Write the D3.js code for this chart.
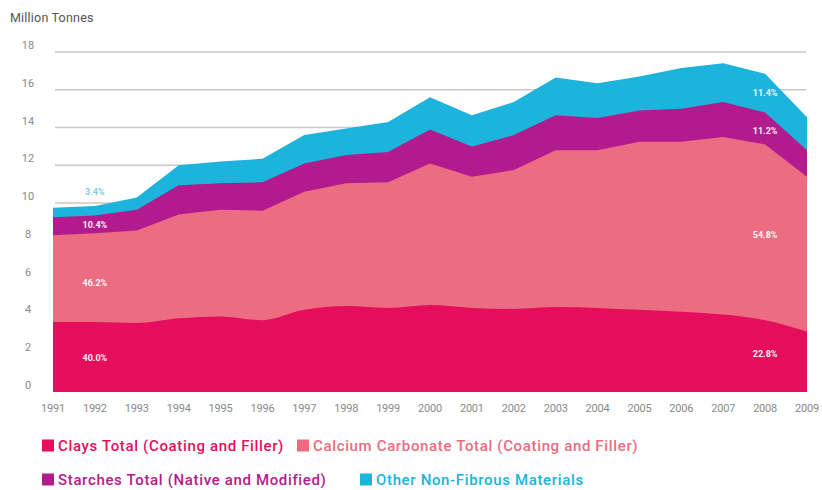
<!DOCTYPE html>
<html><head><meta charset="utf-8">
<script src="https://cdn.jsdelivr.net/npm/d3@7"></script>
<style>body{margin:0;background:#fff}svg{display:block}</style>
</head><body>
<svg id="c" width="822" height="490"></svg>
<script>
const years = [1991,1992,1993,1994,1995,1996,1997,1998,1999,2000,2001,2002,2003,2004,2005,2006,2007,2008,2009];
const clays    = [3.7,3.7,3.65,3.9,4.0,3.8,4.35,4.55,4.45,4.6,4.45,4.4,4.5,4.45,4.35,4.25,4.1,3.8,3.2];
const calcium  = [4.6,4.7,4.9,5.5,5.65,5.8,6.25,6.5,6.65,7.5,6.95,7.35,8.3,8.35,8.9,9.0,9.4,9.3,8.2];
const starches = [0.95,0.95,1.1,1.55,1.4,1.5,1.5,1.5,1.6,1.8,1.6,1.85,1.85,1.7,1.65,1.75,1.85,1.7,1.4];
const other    = [0.5,0.5,0.65,1.05,1.15,1.25,1.5,1.4,1.6,1.7,1.65,1.75,2.0,1.85,1.8,2.15,2.05,2.05,1.75];
const seriesNames = ["Clays Total (Coating and Filler)","Calcium Carbonate Total (Coating and Filler)","Starches Total (Native and Modified)","Other Non-Fibrous Materials"];
const yTicks = [0,2,4,6,8,10,12,14,16,18];
const startLabels = ["40.0%","46.2%","10.4%","3.4%"];
const endLabels   = ["22.8%","54.8%","11.2%","11.4%"];
const startLabelY = [1.8,5.77,8.85,10.6];
const endLabelY   = [2.0,8.3,13.8,15.83];

const colors = ["#e60d5d","#ec6c81","#b21b8e","#1cb3dc"];
const keys = ["clays","calcium","starches","other"];
const rows = years.map((y,i)=>({year:y,clays:clays[i],calcium:calcium[i],starches:starches[i],other:other[i]}));
const stack = d3.stack().keys(keys)(rows);

const svg = d3.select("#c");
const x = d3.scaleLinear().domain([1991,2009]).range([53,807]);
const y = d3.scaleLinear().domain([0,18]).range([392,52]);

svg.append("text").attr("x",10).attr("y",22).attr("font-family","Roboto, sans-serif")
  .attr("font-size",12.5).attr("letter-spacing",0.2).attr("fill","#555").text("Million Tonnes");

// gridlines
svg.append("g").selectAll("line").data(yTicks.filter(t=>t>0)).join("line")
  .attr("x1",55).attr("x2",806).attr("y1",d=>y(d)).attr("y2",d=>y(d))
  .attr("stroke","#c9c9c9").attr("stroke-width",1.5);

// y tick labels
svg.append("g").selectAll("text").data(yTicks).join("text")
  .attr("x",28).attr("y",d=>y(d)-3).attr("text-anchor","middle")
  .attr("font-family","Roboto, sans-serif").attr("font-size",11).attr("fill","#8a8a8a")
  .text(d=>d);

// areas: painted from top layer down, each from baseline to its cumulative top
const order = [3,2,1,0];
order.forEach(k=>{
  const area = d3.area().x((d,i)=>x(years[i])).y0(y(0)).y1(d=>y(d[1]))
    .curve(k===0?d3.curveMonotoneX:d3.curveLinear);
  svg.append("path").datum(stack[k]).attr("d",area).attr("fill",colors[k]);
});

// x axis labels
svg.append("g").selectAll("text").data(years).join("text")
  .attr("x",d=>x(d)).attr("y",412).attr("text-anchor","middle")
  .attr("font-family","Roboto, sans-serif").attr("font-size",11).attr("fill","#8a8a8a")
  .attr("letter-spacing",-0.2)
  .text(d=>d);

// percentage labels
const lab = svg.append("g").attr("font-family","Roboto, sans-serif").attr("font-size",9).attr("font-weight","bold");
startLabels.forEach((t,i)=>{
  lab.append("text").attr("x",x(1992)).attr("y",y(startLabelY[i])+3).attr("text-anchor","middle")
    .attr("fill",i===3?"#73cbe6":"#fff").attr("opacity",0.92).text(t);
});
endLabels.forEach((t,i)=>{
  lab.append("text").attr("x",x(2008)).attr("y",y(endLabelY[i])+3).attr("text-anchor","middle")
    .attr("fill","#fff").attr("opacity",0.92).text(t);
});

// legend
const leg = [{i:0,x:42,y:451},{i:1,x:297,y:451},{i:2,x:42,y:485},{i:3,x:360,y:485}];
const lg = svg.append("g").attr("font-family","Roboto, sans-serif").attr("font-size",15)
  .attr("font-weight",500).attr("letter-spacing",0.65);
leg.forEach(l=>{
  lg.append("rect").attr("x",l.x).attr("y",l.y-11.5).attr("width",12).attr("height",12).attr("fill",colors[l.i]);
  lg.append("text").attr("x",l.x+16).attr("y",l.y).attr("fill",colors[l.i]).text(seriesNames[l.i]);
});
</script>
</body></html>
